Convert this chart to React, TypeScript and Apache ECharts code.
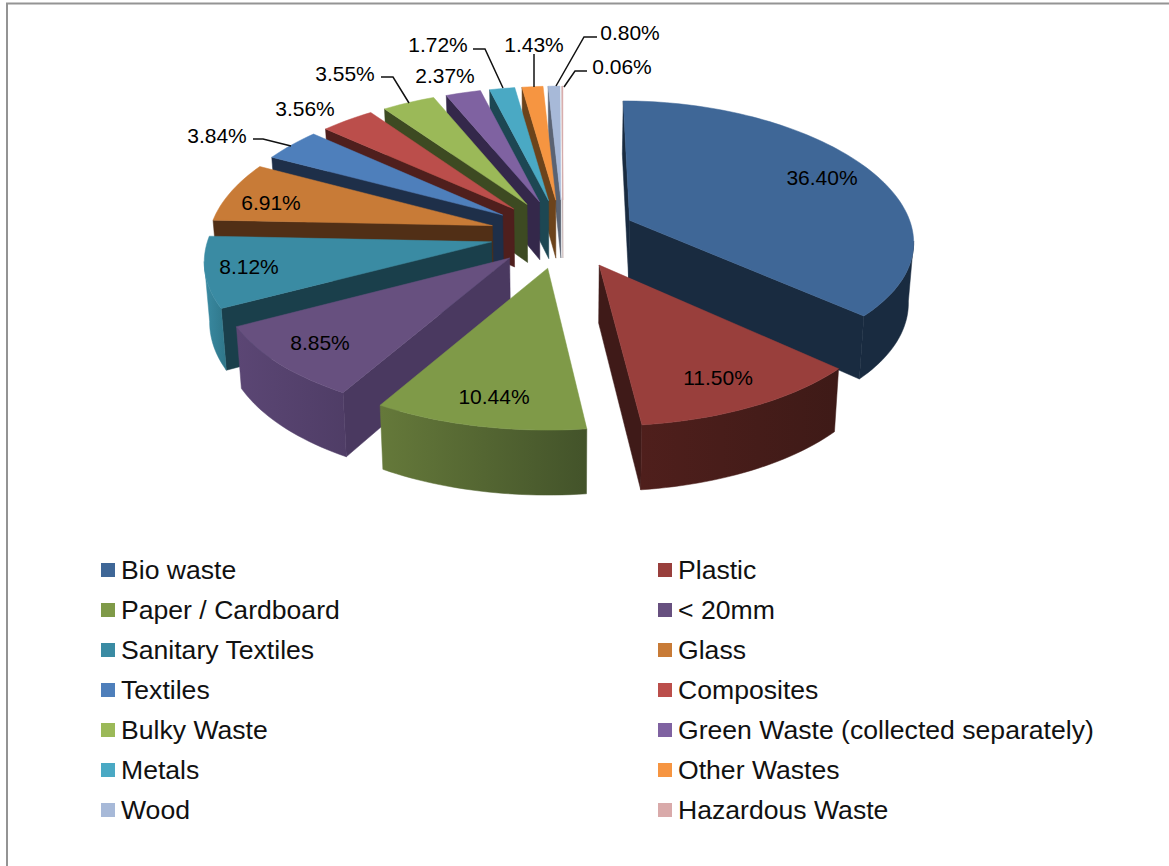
import React, { useEffect, useRef } from "react";
import * as echarts from "echarts";

// Municipal waste composition, in percent of total mass.
const categories = [
  "Bio waste", "Plastic", "Paper / Cardboard", "< 20mm", "Sanitary Textiles", "Glass",
  "Textiles", "Composites", "Bulky Waste", "Green Waste (collected separately)",
  "Metals", "Other Wastes", "Wood", "Hazardous Waste",
];
const shares = [36.4, 11.5, 10.44, 8.85, 8.12, 6.91, 3.84, 3.56, 3.55, 2.37, 1.72, 1.43, 0.8, 0.06];
const shareLabels = [
  "36.40%", "11.50%", "10.44%", "8.85%", "8.12%", "6.91%", "3.84%",
  "3.56%", "3.55%", "2.37%", "1.72%", "1.43%", "0.80%", "0.06%",
];

// Slice colours: top face, cut faces, and outer wall from left to right.
const topColors = ["#3F6797", "#993F3C", "#7F9A48", "#67507F", "#3A8BA3", "#C87B37", "#4E7FBB", "#BB4E4B", "#9BB958", "#7F62A1", "#4AA9C4", "#F69541", "#A7B9D8", "#D9AAAA"];
const cutColors = ["#192B40", "#3F1A18", "#3F4F22", "#4A3960", "#1A3F4B", "#512F16", "#1E2F49", "#4F1F1D", "#3D4A22", "#34284A", "#1D4753", "#6C431B", "#5A6373", "#B8A0A0"];
const wallLeft = ["#192B40", "#4F1F1C", "#65793A", "#5B4674", "#3A8BA3", "#512F16", "#1E2F49", "#4F1F1D", "#3D4A22", "#34284A", "#1D4753", "#6C431B", "#5A6373", "#B8A0A0"];
const wallRight = ["#192B40", "#3E1A17", "#43532A", "#4F3D66", "#2F7689", "#512F16", "#1E2F49", "#4F1F1D", "#3D4A22", "#34284A", "#1D4753", "#6C431B", "#5A6373", "#B8A0A0"];

// Back slices are painted first so nearer ones overlap them.
const paintOrder = [13, 12, 11, 10, 9, 8, 7, 6, 5, 4, 3, 0, 1, 2];

// Label centres in page pixels, and the leader lines of the outside labels.
const labelSpots = [
  [822, 177], [718, 377], [494, 396], [320, 342], [249, 266], [271, 202], [217, 135],
  [305, 108], [345, 73], [445, 75], [438, 44], [534, 44], [630, 32], [622, 66],
];
const leaderLines: Record<number, number[][]> = {
  6: [[253, 139], [263, 139], [291, 146]],
  8: [[381, 77], [393, 77], [409, 103]],
  10: [[473, 49], [485, 49], [503, 88]],
  11: [[534, 54], [534, 87]],
  12: [[597, 37], [584, 37], [556, 86]],
  13: [[587, 71], [575, 71], [564, 87]],
};

// Projection of the tilted, exploded disc.
const CX = 563;
const CY = 234.5;
const RX = 283;
const RY = 138;
const EXPLODE_X = 73;
const EXPLODE_Y = 34.5;
const BOTTOM_SHRINK = 0.985;

const total = shares.reduce((a, b) => a + b, 0);
const FONT = '"Liberation Sans", Arial, sans-serif';

function sliceRange(i: number) {
  const before = shares.slice(0, i).reduce((a, b) => a + b, 0);
  return [(before / total) * 2 * Math.PI, ((before + shares[i]) / total) * 2 * Math.PI];
}

function sliceElements(i: number, order: number) {
  const [a0, a1] = sliceRange(i);
  const mid = (a0 + a1) / 2;
  const midX = Math.sin(mid);
  const midY = -Math.cos(mid);
  // Slices on the right side drift outward as they come toward the viewer.
  const shiftX = EXPLODE_X * midX * (midX > 0 ? 1 + 0.08 * Math.max(midY, 0) : 1);
  const ax = CX + shiftX;
  const ay = CY + EXPLODE_Y * midY;
  // Foreshortening grows with a point's depth and with the slice's own depth.
  const rim = (t: number) => {
    const x = Math.sin(t);
    const y = -Math.cos(t);
    const sx = 1 + 0.15 * (y + 0.15 * midY);
    const sy = 1 + 0.107 * (y + 0.63 * midY);
    const pull = midX > 0 ? 1 + (sx - 1) * 0.6 : 1;
    return [CX + shiftX * pull + RX * x * sx, ay + RY * y * sy, y];
  };
  const lowerRim = (p: number[]) => [CX + (p[0] - CX) * BOTTOM_SHRINK, p[1] + 59 + 6 * p[2]];
  const lowerApex = [CX + (ax - CX) * BOTTOM_SHRINK, ay + 58];

  const steps = Math.max(2, Math.ceil((a1 - a0) / (Math.PI / 120)));
  const arc: number[][] = [];
  for (let k = 0; k <= steps; k++) arc.push(rim(a0 + ((a1 - a0) * k) / steps));

  const out: any[] = [];
  const face = (points: number[][], fill: any, z2: number) =>
    out.push({ type: "polygon", z2, silent: true, shape: { points }, style: { fill, stroke: fill, lineWidth: 0.5 } });

  const first = arc[0];
  const last = arc[arc.length - 1];
  if (first[0] < ax) {
    face([[ax, ay], [first[0], first[1]], lowerRim(first), lowerApex], cutColors[i], order * 10);
  }
  if (last[0] > ax) {
    face([[ax, ay], [last[0], last[1]], lowerRim(last), lowerApex], cutColors[i], order * 10 + 1);
  }

  // Outer wall: only the part of the rim running right to left faces the viewer.
  const front = arc.filter((p, k) => {
    const next = arc[Math.min(k + 1, arc.length - 1)];
    const prev = arc[Math.max(k - 1, 0)];
    return next[0] < p[0] || prev[0] > p[0];
  });
  if (front.length > 1) {
    const poly = [...front.map((p) => [p[0], p[1]]), ...front.slice().reverse().map(lowerRim)];
    face(
      poly,
      {
        type: "linear", x: 0, y: 0, x2: 1, y2: 0,
        colorStops: [
          { offset: 0, color: wallLeft[i] },
          { offset: 1, color: wallRight[i] },
        ],
      },
      order * 10 + 2,
    );
  }

  face([[ax, ay], ...arc.map((p) => [p[0], p[1]])], topColors[i], order * 10 + 3);

  const [lx, ly] = labelSpots[i];
  out.push({
    type: "text", z2: 1000, silent: true,
    style: { text: shareLabels[i], x: lx, y: ly, fill: "#000", font: `21px ${FONT}`, align: "center", verticalAlign: "middle" },
  });
  if (leaderLines[i]) {
    out.push({
      type: "polyline", z2: 999, silent: true,
      shape: { points: leaderLines[i] },
      style: { stroke: "#111", lineWidth: 1.5, fill: null },
    });
  }
  return { type: "group", children: out };
}

const legendBase = {
  orient: "vertical" as const,
  icon: "rect",
  itemWidth: 14,
  itemHeight: 14,
  itemGap: 10,
  top: 550,
  selectedMode: false,
  textStyle: { color: "#111", fontFamily: FONT, fontSize: 26.6, lineHeight: 30, padding: [0, 0, 0, 1] },
};

export default function App() {
  const ref = useRef<HTMLDivElement>(null);
  useEffect(() => {
    const chart = echarts.init(ref.current!, undefined, { renderer: "svg" });
    chart.setOption({
      animation: false,
      legend: [
        { ...legendBase, left: 96, data: categories.filter((_, i) => i % 2 === 0) },
        { ...legendBase, left: 653, data: categories.filter((_, i) => i % 2 === 1) },
      ],
      graphic: [
        {
          type: "polyline",
          silent: true,
          shape: { points: [[7, 866], [7, 3.5], [1169, 3.5]] },
          style: { stroke: "#949494", lineWidth: 2, fill: null },
        },
      ],
      series: paintOrder.map((i, order) => ({
        type: "custom",
        name: categories[i],
        coordinateSystem: "none",
        itemStyle: { color: topColors[i] },
        data: [[shares[i]]],
        renderItem: () => sliceElements(i, order + 1),
      })),
    });
    return () => chart.dispose();
  }, []);
  return <div ref={ref} style={{ position: "absolute", left: 0, top: 0, width: 1169, height: 866 }} />;
}
